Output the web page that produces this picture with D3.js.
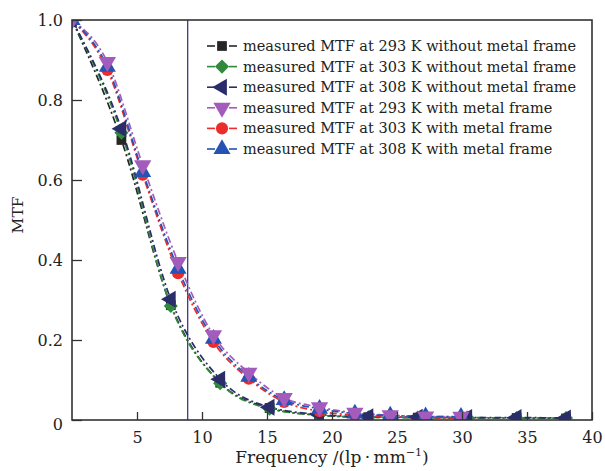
<!DOCTYPE html>
<html><head><meta charset="utf-8">
<script src="https://cdn.jsdelivr.net/npm/d3@7"></script>
<style>body{margin:0;background:#fff}svg{display:block}text{font-family:"DejaVu Serif",serif;fill:#222}</style>
</head><body>
<svg id="c" width="605" height="471"></svg>
<script>
// ---- data ----
const freqWithout = [0, 3.8, 7.6, 11.4, 15.2, 19.0, 22.8, 26.6, 30.4, 34.2, 38.0];
const freqWith = [0, 2.72, 5.44, 8.16, 10.88, 13.6, 16.32, 19.04, 21.76, 24.48, 27.2, 29.92];
const mtf293Without = [1.0, 0.700, 0.287, 0.093, 0.030, 0.012, 0.007, 0.006, 0.005, 0.005, 0.004];
const mtf303Without = [1.0, 0.718, 0.285, 0.092, 0.028, 0.012, 0.007, 0.006, 0.006, 0.005, 0.005];
const mtf308Without = [1.0, 0.728, 0.302, 0.102, 0.032, 0.014, 0.008, 0.007, 0.006, 0.006, 0.005];
const mtf293With = [1.0, 0.895, 0.637, 0.395, 0.212, 0.118, 0.055, 0.032, 0.018, 0.012, 0.009, 0.008];
const mtf303With = [1.0, 0.875, 0.613, 0.367, 0.195, 0.103, 0.045, 0.022, 0.012, 0.008, 0.006, 0.005];
const mtf308With = [1.0, 0.883, 0.620, 0.378, 0.203, 0.108, 0.050, 0.028, 0.016, 0.011, 0.009, 0.008];
const seriesNames = [
  "measured MTF at 293 K without metal frame",
  "measured MTF at 303 K without metal frame",
  "measured MTF at 308 K without metal frame",
  "measured MTF at 293 K with metal frame",
  "measured MTF at 303 K with metal frame",
  "measured MTF at 308 K with metal frame"
];
const xTicks = [5, 10, 15, 20, 25, 30, 35, 40];
const yTicks = [0, 0.2, 0.4, 0.6, 0.8, 1.0];
const cutoffFreq = 8.9;

// ---- styles ----
const styles = [
  {color:"#262626", sym:d3.symbolSquare, size:95, rot:0},
  {color:"#2f8a3c", sym:d3.symbolSquare, size:100, rot:45},
  {color:"#2a2d6a", sym:d3.symbolTriangle, size:125, rot:-90},
  {color:"#a35cbc", sym:d3.symbolTriangle, size:130, rot:180},
  {color:"#ec2b2b", sym:d3.symbolCircle, size:115, rot:0},
  {color:"#2453b3", sym:d3.symbolTriangle, size:125, rot:0}
];
const series = [
  {x:freqWithout, y:mtf293Without},
  {x:freqWithout, y:mtf303Without},
  {x:freqWithout, y:mtf308Without},
  {x:freqWith, y:mtf293With},
  {x:freqWith, y:mtf303With},
  {x:freqWith, y:mtf308With}
];

const L = 72, R = 592, T = 20, B = 420;
const x = d3.scaleLinear().domain([0, 40]).range([L, R]);
const y = d3.scaleLinear().domain([0, 1]).range([B, T]);
const svg = d3.select("#c");

svg.append("defs").append("clipPath").attr("id","clip")
  .append("rect").attr("x",L).attr("y",T).attr("width",R-L).attr("height",B-T);

// cutoff vertical line
svg.append("line").attr("x1",x(cutoffFreq)).attr("x2",x(cutoffFreq)).attr("y1",T).attr("y2",B)
  .attr("stroke","#2a2d7a").attr("stroke-width",1.2);

const line = d3.line().curve(d3.curveMonotoneX);
const g = svg.append("g").attr("clip-path","url(#clip)");
const order = [0,1,2,4,5,3];
// lines
series.forEach((s,i)=>{
  const pts = s.x.map((v,k)=>[x(v), y(s.y[k])]);
  g.append("path").attr("d", line(pts)).attr("fill","none")
    .attr("stroke", styles[i].color).attr("stroke-width",1.7)
    .attr("stroke-dasharray","7,3,2,3");
});
// markers
order.forEach(i=>{
  const s = series[i], st = styles[i];
  const sym = d3.symbol().type(st.sym).size(st.size);
  g.selectAll(null).data(s.x.map((v,k)=>[v,s.y[k]])).enter().append("path")
    .attr("d", sym)
    .attr("transform", d=>`translate(${x(d[0])},${y(d[1])}) rotate(${st.rot})`)
    .attr("fill", st.color);
});

// axes frame
const ax = svg.append("g").attr("transform",`translate(0,${B})`)
  .call(d3.axisBottom(x).tickValues(xTicks).tickSizeInner(-8).tickSizeOuter(0).tickPadding(12).tickFormat(d3.format("d")));
const ay = svg.append("g").attr("transform",`translate(${L},0)`)
  .call(d3.axisLeft(y).tickValues(yTicks).tickSizeInner(-10).tickSizeOuter(0).tickPadding(9)
    .tickFormat(d=> d===0 ? "0" : d3.format(".1f")(d)));
[ax, ay].forEach(a=>{
  a.select(".domain").remove();
  a.selectAll(".tick line").attr("stroke","#333").attr("stroke-width",1.3);
  a.selectAll(".tick text").style("font-family","'DejaVu Serif',serif").style("font-size","16px").attr("fill","#222");
});
ay.selectAll(".tick text").filter(d=>d===0).attr("dy","0.6em");
svg.append("rect").attr("x",L).attr("y",T).attr("width",R-L).attr("height",B-T)
  .attr("fill","none").attr("stroke","#333").attr("stroke-width",1.6);

// axis titles
const xt = svg.append("text").attr("x",(L+R)/2).attr("y",463).attr("text-anchor","middle").style("font-size","17px");
xt.append("tspan").text("Frequency /(lp\u2009·\u2009mm");
xt.append("tspan").text("\u22121").attr("dy","-7").style("font-size","11px");
xt.append("tspan").text(")").attr("dy","7");
svg.append("text").attr("transform",`translate(23,${(T+B)/2-5}) rotate(-90)`).attr("text-anchor","middle")
  .style("font-size","15.5px").text("MTF");

// legend
const lg = svg.append("g");
seriesNames.forEach((name,i)=>{
  const yy = 46 + i*20.6, st = styles[i];
  lg.append("line").attr("x1",207).attr("x2",215).attr("y1",yy).attr("y2",yy).attr("stroke",st.color).attr("stroke-width",1.6);
  lg.append("line").attr("x1",229).attr("x2",237).attr("y1",yy).attr("y2",yy).attr("stroke",st.color).attr("stroke-width",1.6);
  lg.append("path").attr("d", d3.symbol().type(st.sym).size(st.size)())
    .attr("transform",`translate(222,${yy}) rotate(${st.rot})`).attr("fill",st.color);
  lg.append("text").attr("x",243).attr("y",yy+5).style("font-size","14.5px").text(name);
});
</script>
</body></html>
